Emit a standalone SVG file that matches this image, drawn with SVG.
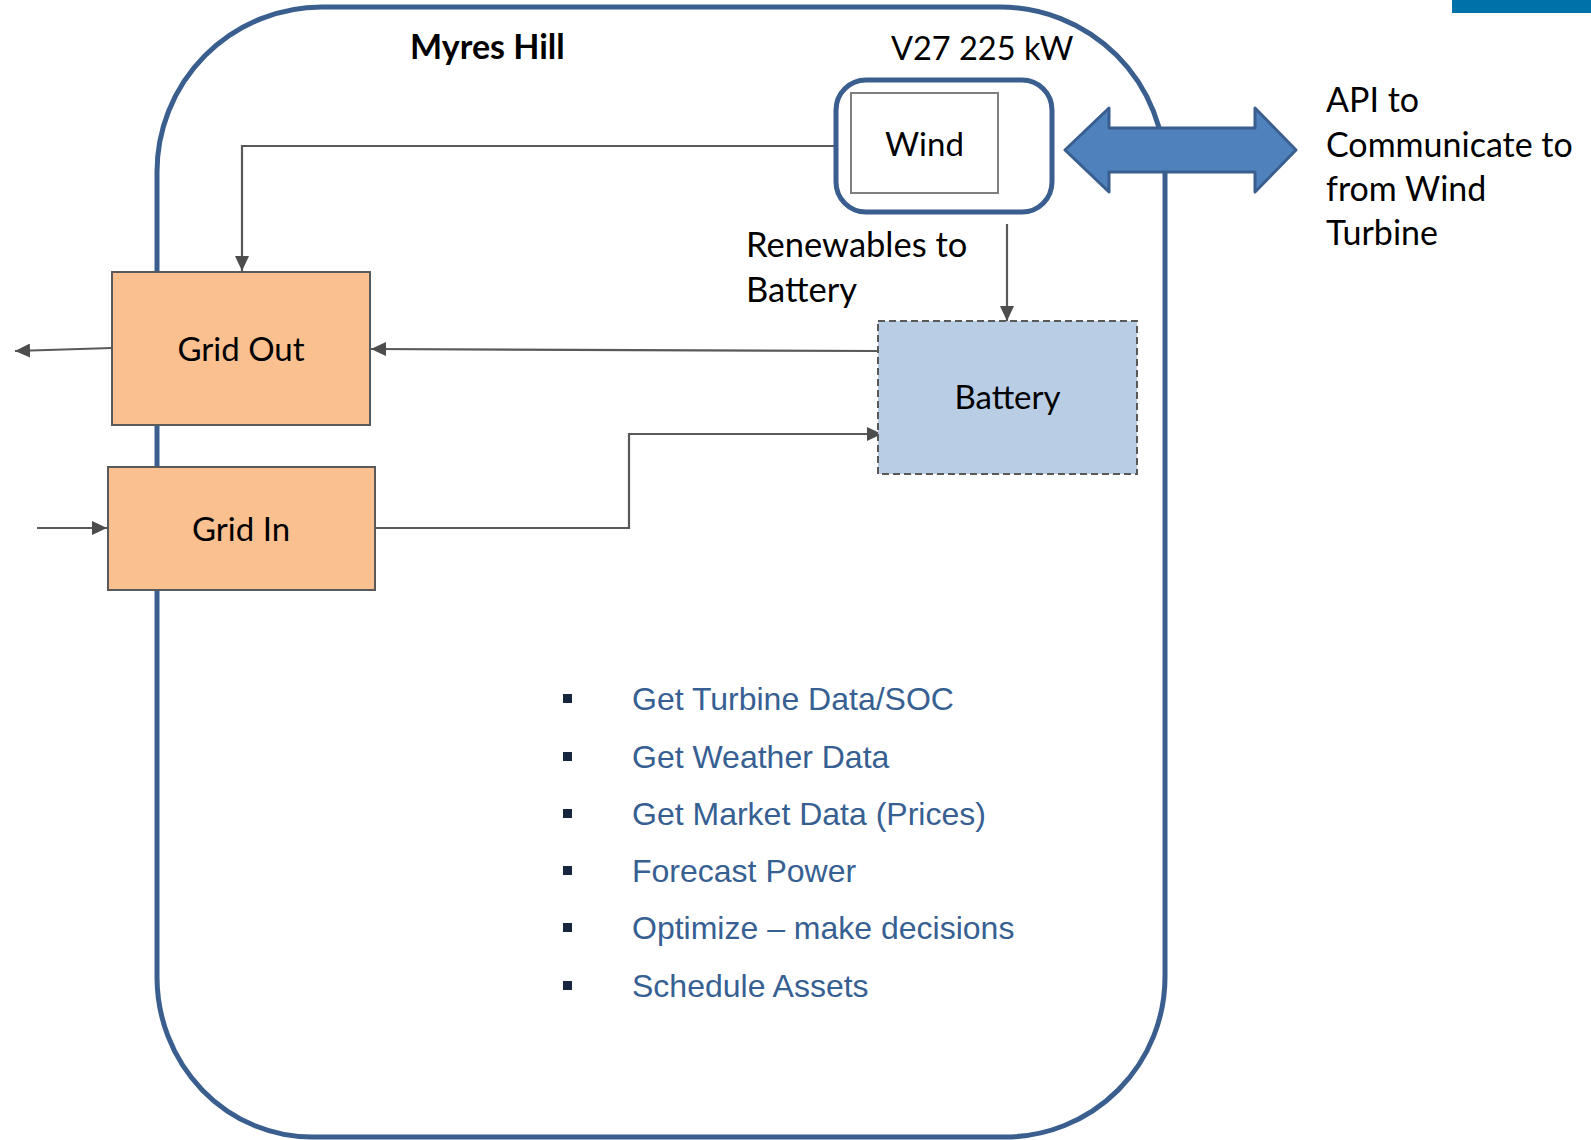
<svg xmlns="http://www.w3.org/2000/svg" width="1591" height="1140" viewBox="0 0 1591 1140">
  <style>
    .label { font-family: Lato, "Liberation Sans", sans-serif; fill: #000; }
    .box { stroke: #595959; stroke-width: 2; }
    .conn { fill: none; stroke: #595959; stroke-width: 2.2; }
    .task { font-family: "Liberation Sans", Arial, sans-serif; font-size: 32px; fill: #376092; }
    .bullet { fill: #17263f; }
  </style>
  <defs>
    <marker id="arrow" markerUnits="userSpaceOnUse" markerWidth="16" markerHeight="14" refX="15" refY="7" orient="auto">
      <path d="M0,0 L15,7 L0,14 z" fill="#4d4d4d"/>
    </marker>
  </defs>

  <rect width="1591" height="1140" fill="#fff"/>
  <!-- corner accent bar -->
  <rect x="1452" y="0" width="139" height="13" fill="#0072aa"/>

  <!-- site boundary -->
  <g id="site">
    <path d="M322,7 H1000 A165,165 0 0 1 1165,172 V977 A160,160 0 0 1 1005,1137 H312 A155,160 0 0 1 157,977 V172 A165,165 0 0 1 322,7 Z" fill="none" stroke="#3a5f8f" stroke-width="5"/>
    <text class="label" x="410" y="59" font-size="34" font-weight="bold">Myres Hill</text>
  </g>

  <!-- connectors -->
  <g id="connectors">
    <path class="conn" d="M836,146 H242 V271" marker-end="url(#arrow)"/>
    <path class="conn" d="M878,351 L371,349" marker-end="url(#arrow)"/>
    <path class="conn" d="M375,528 H629 V434 H882" marker-end="url(#arrow)"/>
    <path class="conn" d="M1007,224 V321" marker-end="url(#arrow)"/>
    <path class="conn" d="M112,348 L15,351" marker-end="url(#arrow)"/>
    <path class="conn" d="M37,528 H107" marker-end="url(#arrow)"/>
  </g>

  <!-- wind turbine -->
  <g id="wind">
    <text class="label" x="891" y="60" font-size="32.5">V27 225 kW</text>
    <rect x="836" y="80" width="216" height="132" rx="30" fill="#fff" stroke="#3a5f8f" stroke-width="5"/>
    <rect x="851" y="93" width="147" height="100" fill="#fff" stroke="#7f7f7f" stroke-width="2"/>
    <text class="label" x="924.5" y="156" font-size="33" text-anchor="middle">Wind</text>
  </g>

  <!-- API link -->
  <g id="api">
    <polygon points="1065,150 1109,108 1109,128 1255,128 1255,108 1296,150 1255,192 1255,172 1109,172 1109,192" fill="#4f81bd" stroke="#3a5f8f" stroke-width="3" stroke-linejoin="round"/>
    <text class="label" font-size="34">
      <tspan x="1326" y="112">API to</tspan>
      <tspan x="1326" y="157">Communicate to</tspan>
      <tspan x="1326" y="201">from Wind</tspan>
      <tspan x="1326" y="245">Turbine</tspan>
    </text>
  </g>

  <g id="renewables-label">
    <text class="label" font-size="34.5">
      <tspan x="746" y="257">Renewables to</tspan>
      <tspan x="746" y="302">Battery</tspan>
    </text>
  </g>

  <g id="grid-out">
    <rect class="box" x="112" y="272" width="258" height="153" fill="#fac090"/>
    <text class="label" x="241" y="361" font-size="33" text-anchor="middle">Grid Out</text>
  </g>

  <g id="grid-in">
    <rect class="box" x="108" y="467" width="267" height="123" fill="#fac090"/>
    <text class="label" x="241" y="541" font-size="33" text-anchor="middle">Grid In</text>
  </g>

  <g id="battery">
    <rect x="878" y="321" width="259" height="153" fill="#b9cde5" stroke="#595959" stroke-width="2" stroke-dasharray="7 4"/>
    <text class="label" x="1007.5" y="409" font-size="33" text-anchor="middle">Battery</text>
  </g>

  <!-- control tasks -->
  <g id="tasks">
    <rect class="bullet" x="563" y="694" width="9" height="9"/>
    <text class="task" x="632" y="710">Get Turbine Data/SOC</text>
    <rect class="bullet" x="563" y="752" width="9" height="9"/>
    <text class="task" x="632" y="768">Get Weather Data</text>
    <rect class="bullet" x="563" y="809" width="9" height="9"/>
    <text class="task" x="632" y="825">Get Market Data (Prices)</text>
    <rect class="bullet" x="563" y="866" width="9" height="9"/>
    <text class="task" x="632" y="882">Forecast Power</text>
    <rect class="bullet" x="563" y="923" width="9" height="9"/>
    <text class="task" x="632" y="939">Optimize – make decisions</text>
    <rect class="bullet" x="563" y="981" width="9" height="9"/>
    <text class="task" x="632" y="997">Schedule Assets</text>
  </g>
</svg>
